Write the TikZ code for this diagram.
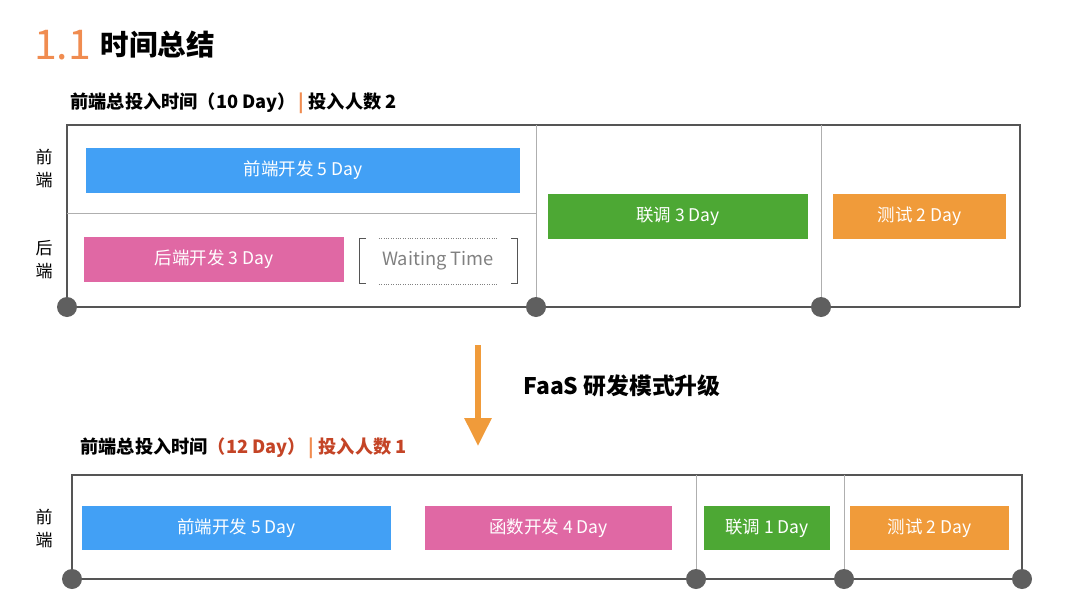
\documentclass[tikz,border=0pt]{standalone}
\usepackage{fontspec}
\setmainfont{Noto Sans CJK SC}
\usetikzlibrary{arrows.meta,positioning}

\definecolor{barblue}{RGB}{66,160,245}
\definecolor{barpink}{RGB}{224,104,164}
\definecolor{bargreen}{RGB}{77,168,52}
\definecolor{barorange}{RGB}{240,155,58}
\definecolor{titleorange}{RGB}{240,140,80}
\definecolor{accent}{RGB}{196,68,38}
\definecolor{knotgray}{RGB}{95,95,95}
\definecolor{framegray}{RGB}{85,85,85}
\definecolor{divgray}{RGB}{175,175,175}

\begin{document}
\begin{tikzpicture}[x=1pt,y=-1pt,
    bar/.style={text=white,inner sep=0pt,minimum height=45pt,font=\fontsize{17.5}{20}\selectfont},
    knot/.style={circle,fill=knotgray,minimum size=20pt,inner sep=0pt},
    side/.style={align=center,font=\fontsize{17}{23}\selectfont},
    frame/.style={draw=framegray,line width=1.2pt},
    divider/.style={draw=divgray,line width=0.8pt},
    flow/.style={draw=barorange,line width=6pt,-{Triangle[width=26pt,length=28pt]}},
    summary/.style={anchor=west,font=\bfseries\fontsize{18.2}{20}\selectfont},
    node distance=6pt]

    \useasboundingbox (0,0) rectangle (1080,608);

    % title
    \node[anchor=west,text=titleorange,inner sep=0pt,font=\fontsize{41}{41}\selectfont] (num) at (34,45) {1.1};
    \node[font=\bfseries\fontsize{28.5}{28}\selectfont] (title) [right=of num] {时间总结};

    % before
    \node[summary] (sum1) at (67,103)
        {前端总投入时间（10 Day）\hspace{3pt}{\color{titleorange}|} 投入人数 2};

    \draw[frame] (1020,307) -- (1020,125) -- (67,125) -- (67,307);
    \draw[divider] (536,125) -- (536,307) (821,125) -- (821,307) (67,213) -- (536,213);

    \node[side] (fe1) at (44,168.5) {前\\端};
    \node[side] (be1) at (44,260) {后\\端};

    \node[bar,fill=barblue,minimum width=434pt] (fedev1) at (303,170.5) {前端开发 5 Day};
    \node[bar,fill=barpink,minimum width=260pt] (bedev1) at (214,259.5) {后端开发 3 Day};
    \node[text=gray,inner sep=0pt,minimum width=118pt,minimum height=46pt,
          font=\fontsize{18.3}{20}\selectfont] (wait) at (438,261) {Waiting Time};
    \node[bar,fill=bargreen,minimum width=260pt] (join1) at (678,216.5) {联调 3 Day};
    \node[bar,fill=barorange,minimum width=173pt] (test1) at (919.5,216.5) {测试 2 Day};

    \draw[dotted,draw=gray] (wait.north west) -- (wait.north east)
                            (wait.south west) -- (wait.south east);
    \draw[draw=framegray,line width=0.9pt]
        ([xshift=-13pt,yshift=-1pt]wait.north west) -- ++(-6,0) |- ([xshift=-13pt,yshift=1pt]wait.south west)
        ([xshift=14pt,yshift=-1pt]wait.north east) -- ++(6,0) |- ([xshift=14pt,yshift=1pt]wait.south east);

    \node[knot] (k0) at (67,307) {};
    \node[knot] (k1) at (536,307) {};
    \node[knot] (k2) at (821,307) {};
    \coordinate (e1) at (1020,307);
    \draw[frame] (k0) -- (k1) -- (k2) -- (e1);

    % upgrade
    \coordinate (up) at (478,345);
    \coordinate (down) at (478,446);
    \draw[flow] (up) -- (down);
    \node[anchor=west,font=\bfseries\fontsize{22.8}{24}\selectfont] (faas) at (520,386) {FaaS 研发模式升级};

    % after
    \node[summary] (sum2) at (77,448)
        {前端总投入时间{\color{accent}（12 Day）}\hspace{3pt}{\color{titleorange}|} {\color{accent}投入人数 1}};

    \draw[frame] (1022,579) -- (1022,475) -- (72,475) -- (72,579);
    \draw[divider] (696,475) -- (696,579) (844,475) -- (844,579);

    \node[side] (fe2) at (44,529) {前\\端};

    \node[bar,fill=barblue,minimum width=309pt,minimum height=44pt] (fedev2) at (236.5,528) {前端开发 5 Day};
    \node[bar,fill=barpink,minimum width=247pt,minimum height=44pt] (fndev2) at (548.5,528) {函数开发 4 Day};
    \node[bar,fill=bargreen,minimum width=126pt,minimum height=44pt] (join2) at (767,528) {联调 1 Day};
    \node[bar,fill=barorange,minimum width=159pt,minimum height=44pt] (test2) at (929.5,528) {测试 2 Day};

    \node[knot] (n0) at (72,579) {};
    \node[knot] (n1) at (696,579) {};
    \node[knot] (n2) at (844,579) {};
    \node[knot] (n3) at (1022,579) {};
    \draw[frame] (n0) -- (n1) -- (n2) -- (n3);
\end{tikzpicture}
\end{document}
